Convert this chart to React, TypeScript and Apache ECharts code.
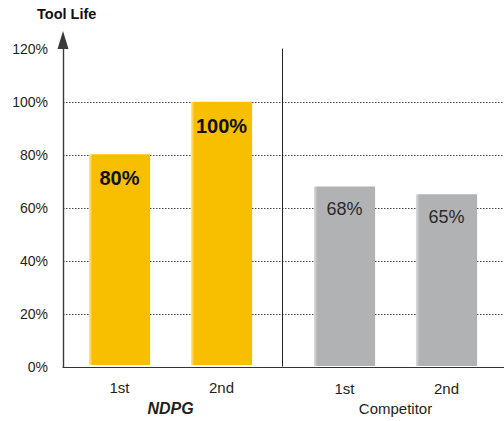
import React, { useEffect, useRef } from "react";
import * as echarts from "echarts";

const groupNames = ["NDPG", "Competitor"];
const rounds = ["1st", "2nd"];
const ndpgValues = [80, 100];
const competitorValues = [68, 65];
const yTicks = [0, 20, 40, 60, 80, 100, 120];
const yTitle = "Tool Life";

const FONT = "'Liberation Sans', Arial, Helvetica, sans-serif";

export default function App() {
  const ref = useRef<HTMLDivElement>(null);
  useEffect(() => {
    if (!ref.current) return;
    const chart = echarts.init(ref.current, null, { renderer: "svg" });
    const yellow = new echarts.graphic.LinearGradient(0, 0, 1, 0, [
      { offset: 0, color: "#fde9a6" },
      { offset: 0.06, color: "#f8be00" },
      { offset: 1, color: "#f8be00" },
    ]);
    const gray = new echarts.graphic.LinearGradient(0, 0, 1, 0, [
      { offset: 0, color: "#dcdddf" },
      { offset: 0.06, color: "#b1b2b4" },
      { offset: 1, color: "#b1b2b4" },
    ]);
    const yMax = yTicks[yTicks.length - 1];
    const top = 49;
    const bottom = 54;
    chart.setOption({
      animation: false,
      textStyle: { fontFamily: FONT },
      title: {
        text: yTitle,
        left: 32,
        top: 1,
        textStyle: { fontSize: 14.5, fontWeight: "bold", color: "#111", fontFamily: FONT },
      },
      grid: [
        { left: 63, right: 0, top, bottom },
        { left: 68.5, width: 204, top, bottom },
        { left: 293.5, width: 204, top, bottom },
      ],
      xAxis: [
        {
          gridIndex: 0,
          type: "value",
          min: 0,
          max: 1,
          position: "bottom",
          axisLine: { show: true, onZero: false, lineStyle: { color: "#333", width: 1.2 } },
          axisTick: { show: false },
          axisLabel: { show: false },
          splitLine: { show: false },
        },
        {
          gridIndex: 1,
          type: "category",
          data: rounds,
          axisLine: { show: false },
          axisTick: { show: false },
          axisLabel: { margin: 15, fontSize: 15, color: "#231f20", fontFamily: FONT },
          name: groupNames[0],
          nameLocation: "middle",
          nameGap: 33,
          nameTextStyle: {
            fontSize: 16,
            fontWeight: "bold",
            fontStyle: "italic",
            color: "#231f20",
            fontFamily: FONT,
          },
        },
        {
          gridIndex: 2,
          type: "category",
          data: rounds,
          axisLine: { show: false },
          axisTick: { show: false },
          axisLabel: { margin: 15, fontSize: 15, color: "#231f20", fontFamily: FONT },
          name: groupNames[1],
          nameLocation: "middle",
          nameGap: 34,
          nameTextStyle: { fontSize: 15, color: "#231f20", fontFamily: FONT },
        },
      ],
      yAxis: [
        {
          gridIndex: 0,
          type: "value",
          min: 0,
          max: yMax,
          interval: 20,
          axisLine: {
            show: true,
            lineStyle: { color: "#3a3a3a", width: 1.4 },
            symbol: ["none", "triangle"],
            symbolSize: [11, 18],
            symbolOffset: [0, 9],
          },
          axisTick: { show: false },
          axisLabel: {
            margin: 15,
            fontSize: 14,
            color: "#231f20",
            fontFamily: FONT,
            formatter: "{value}%",
          },
          splitLine: {
            show: true,
            showMinLine: false,
            showMaxLine: false,
            lineStyle: { color: "#444", width: 1, type: [1.5, 1.5] },
          },
        },
        {
          gridIndex: 1,
          type: "value",
          min: 0,
          max: yMax,
          show: false,
        },
        {
          gridIndex: 2,
          type: "value",
          min: 0,
          max: yMax,
          offset: 11.5,
          axisLine: { show: true, lineStyle: { color: "#222", width: 1 } },
          axisTick: { show: false },
          axisLabel: { show: false },
          splitLine: { show: false },
        },
      ],
      series: [
        {
          type: "bar",
          name: groupNames[0],
          xAxisIndex: 1,
          yAxisIndex: 1,
          data: ndpgValues,
          barWidth: "60%",
          itemStyle: { color: yellow },
          label: {
            show: true,
            position: "insideTop",
            distance: 14,
            formatter: "{c}%",
            fontSize: 20,
            fontWeight: "bold",
            color: "#111",
            fontFamily: FONT,
          },
        },
        {
          type: "bar",
          name: groupNames[1],
          xAxisIndex: 2,
          yAxisIndex: 2,
          data: competitorValues,
          barWidth: "60%",
          itemStyle: { color: gray },
          label: {
            show: true,
            position: "insideTop",
            distance: 14,
            formatter: "{c}%",
            fontSize: 18,
            color: "#2a2a2a",
            fontFamily: FONT,
          },
        },
      ],
    });
    return () => chart.dispose();
  }, []);
  return (
    <div
      ref={ref}
      style={{ position: "fixed", left: 0, top: 0, width: 504, height: 421, background: "#fff" }}
    />
  );
}
